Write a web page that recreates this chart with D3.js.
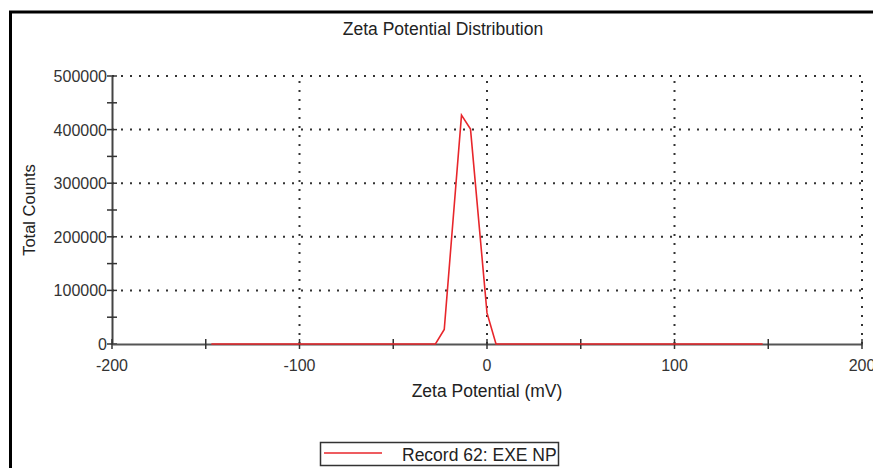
<!DOCTYPE html>
<html>
<head>
<meta charset="utf-8">
<script src="https://cdn.jsdelivr.net/npm/d3@7"></script>
<style>
  html, body { margin: 0; padding: 0; background: #fff; }
  svg { display: block; font-family: "Liberation Sans", Arial, sans-serif; }
</style>
</head>
<body>
<svg id="chart" width="873" height="468"></svg>
<script>
// Zeta potential (mV) and total counts for the recorded distribution
const zetaMv = [-147, -27.5, -22.8, -13.6, -8.8, 0, 4.8, 147];
const totalCounts = [0, 0, 27000, 427000, 401000, 58000, 0, 0];

const xTickValues = [-200, -100, 0, 100, 200];
const xMinorTicks = [-200, -150, -100, -50, 0, 50, 100, 150, 200];
const yTickValues = [0, 100000, 200000, 300000, 400000, 500000];
const yMinorTicks = [0, 50000, 100000, 150000, 200000, 250000, 300000, 350000, 400000, 450000, 500000];

const chartTitle = "Zeta Potential Distribution";
const xTitle = "Zeta Potential (mV)";
const yTitle = "Total Counts";
const seriesName = "Record 62: EXE NP";

const svg = d3.select("#chart");
const plot = { left: 112, right: 862, top: 76, bottom: 344 };

const x = d3.scaleLinear().domain([-200, 200]).range([plot.left, plot.right]);
const y = d3.scaleLinear().domain([0, 500000]).range([plot.bottom, plot.top]);

// Frame around the chart
svg.append("path")
  .attr("d", `M10.5,468 L10.5,12 L873,12`)
  .attr("fill", "none")
  .attr("stroke", "#000")
  .attr("stroke-width", 3);

// Title
svg.append("text")
  .attr("x", 443).attr("y", 35)
  .attr("text-anchor", "middle")
  .attr("font-size", 17.5)
  .attr("fill", "#222")
  .text(chartTitle);

// Dotted grid
const grid = svg.append("g")
  .attr("stroke", "#333")
  .attr("stroke-width", 2)
  .attr("stroke-dasharray", "2,7");
grid.selectAll("line.h").data(yTickValues.filter(d => d > 0)).join("line")
  .attr("class", "h")
  .attr("x1", plot.left).attr("x2", plot.right)
  .attr("y1", d => y(d)).attr("y2", d => y(d));
grid.selectAll("line.v").data(xTickValues.filter(d => d > -200)).join("line")
  .attr("class", "v")
  .attr("x1", d => x(d)).attr("x2", d => x(d))
  .attr("y1", plot.bottom).attr("y2", plot.top);

// Y axis
const yAxis = svg.append("g").attr("transform", `translate(${plot.left},0)`)
  .call(d3.axisLeft(y).tickValues(yMinorTicks).tickSize(0).tickFormat(""));
yAxis.select(".domain").attr("stroke", "#444").attr("stroke-width", 2);
svg.append("g").selectAll("line").data(yMinorTicks).join("line")
  .attr("x1", plot.left - 5).attr("x2", plot.left + 5)
  .attr("y1", d => y(d)).attr("y2", d => y(d))
  .attr("stroke", "#333").attr("stroke-width", 1.5);
svg.append("g").selectAll("text").data(yTickValues).join("text")
  .attr("x", plot.left - 5).attr("y", d => y(d) + 6)
  .attr("text-anchor", "end")
  .attr("font-size", 16)
  .attr("fill", "#333")
  .text(d => d3.format("d")(d));

// X axis
const xAxis = svg.append("g").attr("transform", `translate(0,${plot.bottom})`)
  .call(d3.axisBottom(x).tickValues(xMinorTicks).tickSize(0).tickFormat(""));
xAxis.select(".domain").attr("stroke", "#555").attr("stroke-width", 2);
svg.append("g").selectAll("line").data(xMinorTicks).join("line")
  .attr("x1", d => x(d)).attr("x2", d => x(d))
  .attr("y1", plot.bottom - 5).attr("y2", plot.bottom + 5)
  .attr("stroke", "#333").attr("stroke-width", 1.5);
svg.append("g").selectAll("text").data(xTickValues).join("text")
  .attr("x", d => x(d)).attr("y", plot.bottom + 27)
  .attr("text-anchor", "middle")
  .attr("font-size", 16)
  .attr("fill", "#333")
  .text(d => d);

// Axis titles
svg.append("text")
  .attr("x", x(0)).attr("y", 397)
  .attr("text-anchor", "middle")
  .attr("font-size", 17.5)
  .attr("fill", "#222")
  .text(xTitle);
svg.append("text")
  .attr("transform", `translate(35,${(plot.top + plot.bottom) / 2}) rotate(-90)`)
  .attr("text-anchor", "middle")
  .attr("font-size", 16.5)
  .attr("fill", "#222")
  .text(yTitle);

// Distribution curve
const line = d3.line().x((d, i) => x(d)).y((d, i) => y(totalCounts[i]));
svg.append("path")
  .datum(zetaMv)
  .attr("d", line)
  .attr("fill", "none")
  .attr("stroke", "#e8262b")
  .attr("stroke-width", 1.6)
  .attr("stroke-linejoin", "miter");

// Legend
const legend = svg.append("g");
legend.append("rect")
  .attr("x", 320.5).attr("y", 442.5).attr("width", 238).attr("height", 23)
  .attr("fill", "#fff").attr("stroke", "#333").attr("stroke-width", 1.5);
legend.append("line")
  .attr("x1", 324).attr("x2", 382).attr("y1", 453).attr("y2", 453)
  .attr("stroke", "#e8262b").attr("stroke-width", 1.6);
legend.append("text")
  .attr("x", 402).attr("y", 461)
  .attr("font-size", 17.5)
  .attr("fill", "#222")
  .text(seriesName);
</script>
</body>
</html>
